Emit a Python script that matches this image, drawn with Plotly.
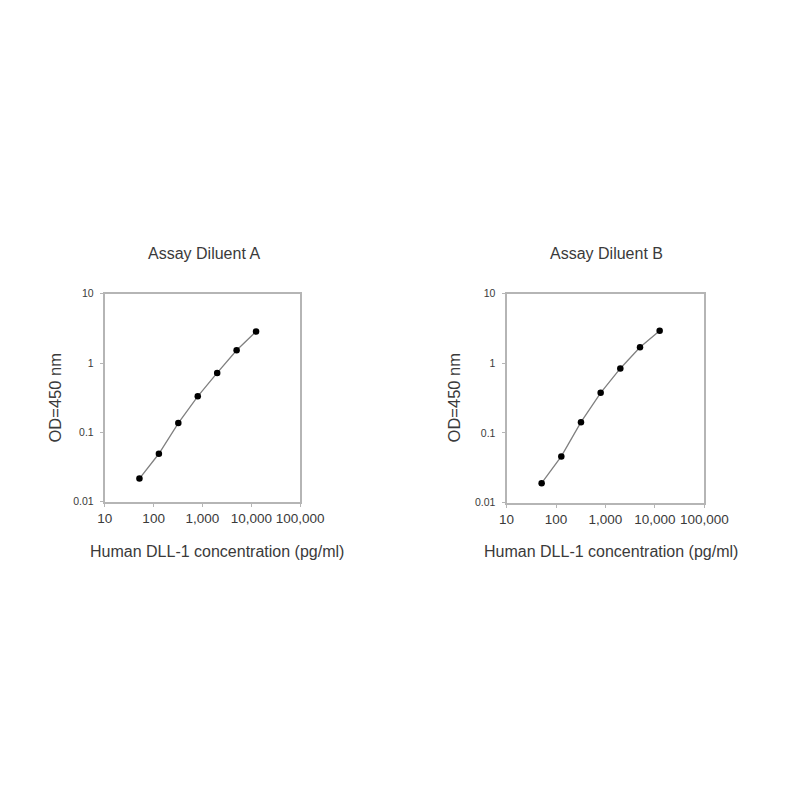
import plotly.graph_objects as go

# concentraciones (pg/ml) y lecturas OD
conc = [51.2, 128, 320, 800, 2000, 5000, 12500]
od_a = [0.0215, 0.049, 0.136, 0.33, 0.72, 1.53, 2.85]
od_b = [0.019, 0.046, 0.143, 0.377, 0.845, 1.70, 2.94]

titulos = ["Assay Diluent A", "Assay Diluent B"]
x_tickvals = [10, 100, 1000, 10000, 100000]
x_ticktext = ["10", "100", "1,000", "10,000", "100,000"]
y_tickvals = [0.01, 0.1, 1, 10]
y_ticktext = ["0.01", "0.1", "1", "10"]

W = 800
fuente = "Liberation Sans, Arial, sans-serif"
gris_txt = "#3a3a3a"

fig = go.Figure()

# posiciones de cada panel en pixeles (izq, der, arriba, abajo)
paneles = [(92.5, 296, 284, 495), (511, 717, 284, 496)]
# centros de textos: titulo x, eje x centro, eje y x
textos = [(196, 209, 41), (615, 620, 456.5)]

for i, (od, (l, r, t, b)) in enumerate(zip([od_a, od_b], paneles)):
    xa = "x" if i == 0 else "x2"
    ya = "y" if i == 0 else "y2"
    fig.add_trace(go.Scatter(
        x=conc, y=od, mode="lines+markers", xaxis=xa, yaxis=ya,
        line=dict(color="#808080", width=1.3),
        marker=dict(color="black", size=6.5),
        showlegend=False))
    ejes_x = dict(type="log", range=[1, 5], domain=[l / W, r / W],
                  tickvals=x_tickvals, ticktext=x_ticktext, tickangle=0,
                  showgrid=False, zeroline=False, showline=True,
                  linecolor="#b5b5b5", linewidth=2, mirror=True,
                  ticks="outside", ticklen=3, tickcolor="#b5b5b5",
                  tickfont=dict(size=13.5, color=gris_txt, family=fuente),
                  anchor=ya)
    ejes_y = dict(type="log", range=[-2, 1], domain=[1 - b / W, 1 - t / W],
                  tickvals=y_tickvals, ticktext=y_ticktext,
                  showgrid=False, zeroline=False, showline=True,
                  linecolor="#b5b5b5", linewidth=2, mirror=True,
                  ticks="outside", ticklen=3, tickcolor="#b5b5b5",
                  ticklabelstandoff=4,
                  tickfont=dict(size=10.5, color=gris_txt, family=fuente),
                  anchor=xa)
    if i == 0:
        fig.update_layout(xaxis=ejes_x, yaxis=ejes_y)
    else:
        fig.update_layout(xaxis2=ejes_x, yaxis2=ejes_y)

    tx, ex, ey = textos[i]
    fig.add_annotation(text=titulos[i], x=tx / W, y=1 - 243 / W,
                       xref="paper", yref="paper", showarrow=False,
                       xanchor="center", yanchor="middle",
                       font=dict(size=16, color=gris_txt, family=fuente))
    fig.add_annotation(text="Human DLL-1 concentration (pg/ml)",
                       x=ex / W, y=1 - 545.5 / W,
                       xref="paper", yref="paper", showarrow=False,
                       xanchor="center", yanchor="middle",
                       font=dict(size=16, color=gris_txt, family=fuente))
    fig.add_annotation(text="OD=450 nm", x=ey / W, y=1 - 390 / W,
                       xref="paper", yref="paper", showarrow=False,
                       xanchor="center", yanchor="middle",
                       textangle=-90,
                       font=dict(size=16.5, color=gris_txt, family=fuente))

fig.update_layout(width=800, height=800, margin=dict(l=0, r=0, t=0, b=0),
                  paper_bgcolor="white", plot_bgcolor="white")

fig.write_html("out.html")
